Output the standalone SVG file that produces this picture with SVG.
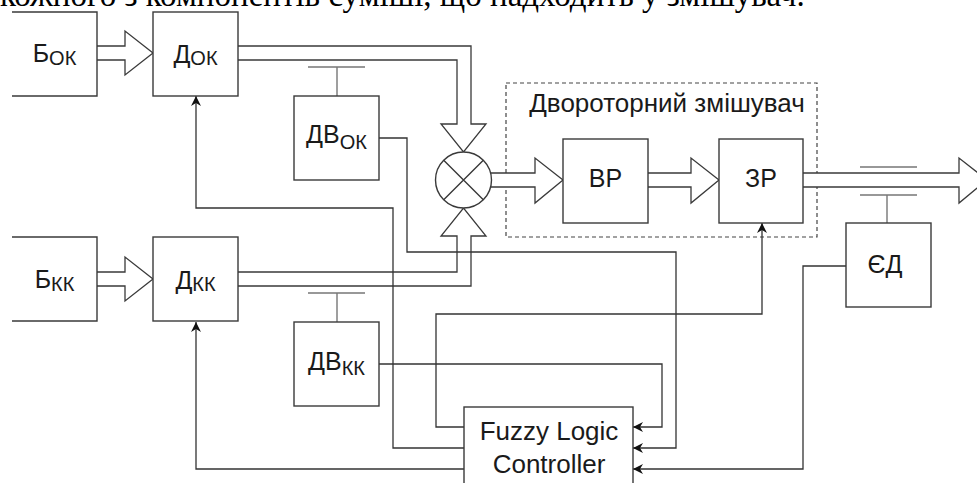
<svg xmlns="http://www.w3.org/2000/svg" width="977" height="483" viewBox="0 0 977 483">
<style>
.box{fill:#fff;stroke:#3a3a3a;stroke-width:1.4}
.pipe{fill:#fff;stroke:#3a3a3a;stroke-width:1.3;stroke-linejoin:miter}
.wire{fill:none;stroke:#333;stroke-width:1.3}
.bar{fill:none;stroke:#777;stroke-width:1.4}
.lbl{font-family:"Liberation Sans",Arial,sans-serif;font-size:25px;fill:#1a1a1a;text-anchor:middle}
.sub{font-size:20px}
</style>
<defs>
<marker id="ah" viewBox="0 0 10 10" refX="10" refY="5" markerWidth="10" markerHeight="10" orient="auto" markerUnits="userSpaceOnUse">
<path d="M0,0 L10,5 L0,10 L3,5 z" fill="#111"/>
</marker>
</defs>
<rect width="977" height="483" fill="#fff"/>
<text x="0" y="6" font-family="'Liberation Serif','Times New Roman',serif" font-size="33" fill="#000">кожного з компонентів суміші, що надходить у змішувач.</text>

<g id="mixer-frame">
<rect x="506" y="83" width="311" height="154" fill="none" stroke="#444" stroke-width="1.2" stroke-dasharray="4,3"/>
<text class="lbl" x="667" y="112" style="font-size:26px">Двороторний змішувач</text>
</g>

<g id="connectors">
<path class="pipe" d="M97,46 H125 V31 L153,53 L125,75 V60 H97"/>
<path class="pipe" d="M97,272 H125 V257 L153,279 L125,301 V286 H97"/>
<path class="pipe" d="M238,46 H471 V124 H486 L463.5,152 L441,124 H457 V60 H238"/>
<path class="pipe" d="M238,286 H471 V236 H486 L463.5,208 L441,236 H457 V272 H238"/>
<path class="pipe" d="M490.6,173 H535 V158 L563,180 L535,203 V187 H490.6"/>
<path class="pipe" d="M648,173 H691 V158 L719,180 L691,203 V187 H648"/>
<path class="pipe" d="M803,173 H959 V158 L987,180 L959,203 V187 H803"/>
<path class="wire" d="M379,138 H407 V252 H676 V448 H633" marker-end="url(#ah)"/>
<path class="wire" d="M379,364 H662 V427 H633" marker-end="url(#ah)"/>
<path class="wire" d="M846,266 H803 V469 H633" marker-end="url(#ah)"/>
<path class="wire" d="M464,448 H393 V208 H196 V96" marker-end="url(#ah)"/>
<path class="wire" d="M464,469 H196 V322" marker-end="url(#ah)"/>
<path class="wire" d="M464,427 H436 V314 H762 V223" marker-end="url(#ah)"/>
</g>

<g id="B_ok">
<path class="box" d="M12,12 H97 V96 H12"/>
<text class="lbl" x="54.5" y="62">Б<tspan class="sub" dy="3">ОК</tspan></text>
</g>
<g id="D_ok">
<rect class="box" x="153" y="12" width="85" height="84"/>
<text class="lbl" x="195.5" y="63">Д<tspan class="sub" dy="2">ОК</tspan></text>
</g>
<g id="DV_ok">
<path class="bar" d="M308,67 H365 M337,67 V96"/>
<rect class="box" x="294" y="96" width="85" height="84"/>
<text class="lbl" x="336.5" y="143">ДВ<tspan class="sub" dy="6">ОК</tspan></text>
</g>
<g id="B_kk">
<path class="box" d="M12,237 H97 V321 H12"/>
<text class="lbl" x="54.5" y="288">Б<tspan class="sub" dy="3">КК</tspan></text>
</g>
<g id="D_kk">
<rect class="box" x="153" y="237" width="85" height="84"/>
<text class="lbl" x="195.5" y="289">Д<tspan class="sub" dy="2">КК</tspan></text>
</g>
<g id="DV_kk">
<path class="bar" d="M308,293 H365 M337,293 V322"/>
<rect class="box" x="294" y="322" width="85" height="84"/>
<text class="lbl" x="336.5" y="370">ДВ<tspan class="sub" dy="5">КК</tspan></text>
</g>
<g id="mixer">
<circle cx="463.5" cy="180" r="28" fill="#fff" stroke="#3a3a3a" stroke-width="1.4"/>
<path d="M443.7,160.2 L483.3,199.8 M483.3,160.2 L443.7,199.8" stroke="#3a3a3a" stroke-width="1.4"/>
</g>
<g id="VR">
<rect class="box" x="563" y="139" width="85" height="84"/>
<text class="lbl" x="605.5" y="187">ВР</text>
</g>
<g id="ZR">
<rect class="box" x="719" y="139" width="84" height="84"/>
<text class="lbl" x="761" y="187">ЗР</text>
</g>
<g id="ED">
<path class="bar" d="M860,167 H917 M860,195 H917 M887,195 V223"/>
<rect class="box" x="846" y="223" width="85" height="84"/>
<text class="lbl" x="885" y="273">ЄД</text>
</g>
<g id="FLC">
<rect class="box" x="464" y="407" width="169" height="90"/>
<text class="lbl" x="549" y="440" style="font-size:26px">Fuzzy Logic</text>
<text class="lbl" x="549" y="473" style="font-size:26px">Controller</text>
</g>
</svg>
